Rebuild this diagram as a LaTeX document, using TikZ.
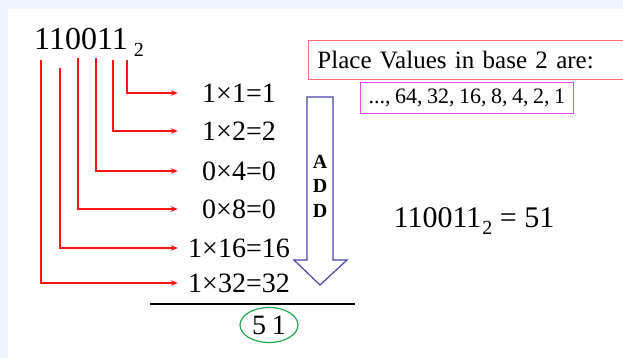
\documentclass[tikz,border=0pt]{standalone}
\usepackage{fontspec}
\setmainfont{Liberation Serif}
\usetikzlibrary{shapes.geometric,positioning,arrows.meta}
\definecolor{pagebg}{RGB}{238,245,253}
\definecolor{bitred}{RGB}{255,20,20}
\definecolor{boxred}{RGB}{255,110,110}
\definecolor{boxpink}{RGB}{235,70,235}
\definecolor{addblue}{RGB}{70,70,170}
\definecolor{sumgreen}{RGB}{30,170,80}
\tikzset{
  numtext/.style={
    font=\fontsize{32}{34}\selectfont, inner sep=0pt
  },
  eqnode/.style={
    font=\fontsize{28}{30}\selectfont,
    minimum width=122pt, text height=19pt, text depth=0pt,
    inner sep=0pt, align=center
  },
  bitline/.style={
    draw=bitred, line width=1.5pt,
    -{Stealth[length=7pt,width=5.5pt]}
  },
  placebox/.style={
    rectangle, draw=boxred, line width=0.9pt,
    minimum width=340pt, minimum height=39pt,
    text width=322pt, inner xsep=9pt, align=left,
    font=\fontsize{25}{27}\selectfont
  },
  valbox/.style={
    rectangle, draw=boxpink, line width=0.9pt,
    minimum width=213pt, minimum height=31pt, inner sep=2pt,
    font=\fontsize{22}{24}\selectfont
  },
  addtext/.style={
    font=\fontsize{20}{24.5}\selectfont\bfseries, align=center
  },
  sumellipse/.style={
    ellipse, draw=sumgreen, line width=1.2pt,
    minimum width=58pt, minimum height=35pt, inner sep=0pt,
    font=\fontsize{28}{30}\selectfont
  },
}
\newcommand{\basetwo}[1]{\hspace{#1}\lower7pt\hbox{\fontsize{20}{20}\selectfont 2}}
\newcommand{\sep}{,\hspace{4.5pt}}

\begin{document}
\begin{tikzpicture}[x=1pt,y=-1pt]

%% ── Page frame ────────────────────────────────────────────────────────────
\clip (0,0) rectangle (623,358);
\fill[pagebg] (0,0) rectangle (623,358);
\fill[white] (8,9) rectangle (623,358);

%% ── Binary number and its digits ─────────────────────────────────────────
\node[numtext, anchor=base west] (num) at (34,50) {110011\basetwo{6pt}};
\coordinate (b1) at (41,60);
\coordinate (b2) at (60,68);
\coordinate (b3) at (78,58);
\coordinate (b4) at (96,58);
\coordinate (b5) at (113,60);
\coordinate (b6) at (127,60);

%% ── Products, one per digit ──────────────────────────────────────────────
\node[eqnode] (eq1) at (239,93)  {1×1=1};
\node[eqnode] (eq2) at (239,131) {1×2=2};
\node[eqnode] (eq3) at (239,171) {0×4=0};
\node[eqnode] (eq4) at (239,209) {0×8=0};
\node[eqnode] (eq5) at (239,248) {1×16=16};
\node[eqnode] (eq6) at (239,283) {1×32=32};

\foreach \b/\e in {6/1,5/2,4/3,3/4,2/5,1/6}
  \draw[bitline] (b\b) |- (eq\e.west);

%% ── Sum ──────────────────────────────────────────────────────────────────
\draw[line width=2pt] (150,304) -- (355,304);
\node[sumellipse] (sum) at (269,325) {5\hspace{6pt}1};

%% ── ADD arrow ────────────────────────────────────────────────────────────
\draw[addblue, line width=1.2pt, line join=miter]
  (307,97) -- (333,97) -- (333,260) -- (347,260) -- (320,285)
  -- (294,260) -- (307,260) -- cycle;
\node[addtext] (add) at (320,186) {A\\D\\D};

%% ── Place values and result ──────────────────────────────────────────────
\node[placebox, anchor=north west] (place) at (308,40)
  {Place Values in base 2 are:};
\node[valbox, anchor=north west] (vals) at (360,82)
  {...\sep 64\sep 32\sep 16\sep 8\sep 4\sep 2\sep 1};
\node[numtext, anchor=base, font=\fontsize{30}{32}\selectfont] (result)
  at (474,227) {110011\basetwo{1pt}\ = 51};

\end{tikzpicture}
\end{document}
